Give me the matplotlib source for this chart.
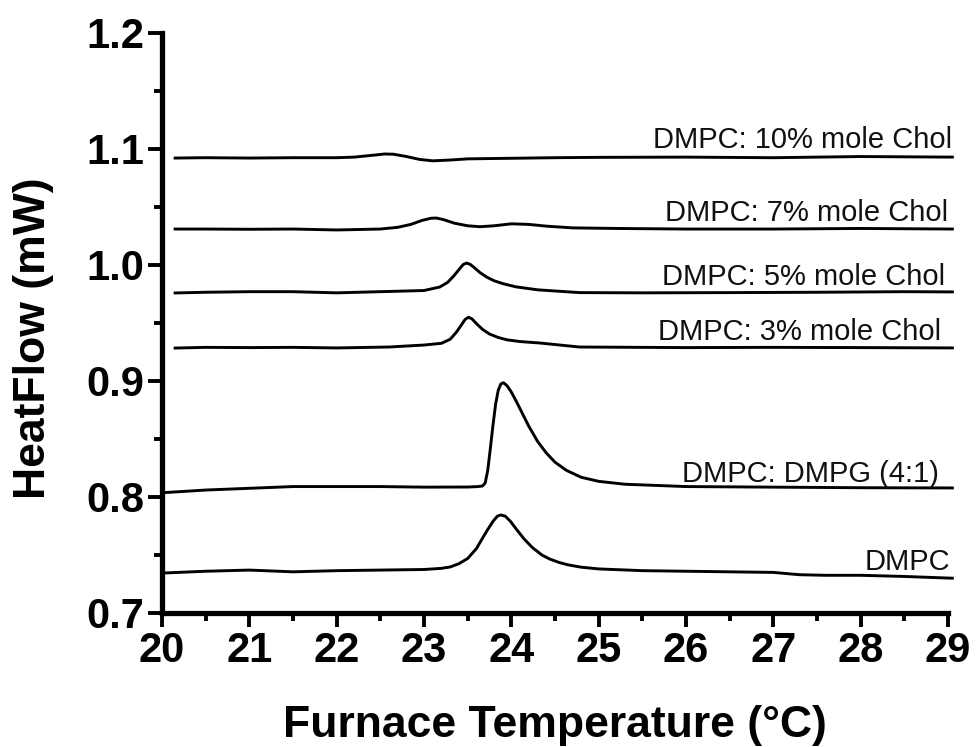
import matplotlib
matplotlib.use('Agg')
import matplotlib.pyplot as plt
from matplotlib.ticker import MultipleLocator

plt.rcParams['font.family'] = ['Liberation Sans', 'DejaVu Sans']

# ---------- Data ----------
dmpc_x = [20.03, 20.5, 21.0, 21.5, 22.0, 22.5, 23.0, 23.2, 23.3, 23.4, 23.5, 23.6, 23.67, 23.73,
          23.79, 23.84, 23.88, 23.93, 23.99, 24.06, 24.15, 24.24, 24.35, 24.44, 24.55, 24.65,
          24.8, 25.0, 25.5, 26.0, 26.5, 27.0, 27.3, 27.6, 28.0, 28.5, 29.05]
dmpc_y = [0.7345, 0.736, 0.737, 0.7355, 0.7365, 0.737, 0.7375, 0.7385, 0.7397, 0.7425, 0.747,
          0.7555, 0.7645, 0.772, 0.779, 0.7835, 0.7845, 0.7835, 0.779, 0.772, 0.7635, 0.7565,
          0.750, 0.7465, 0.7435, 0.7415, 0.7395, 0.738, 0.7365, 0.736, 0.7355, 0.735, 0.733,
          0.7325, 0.7325, 0.7315, 0.730]

dmpg_x = [20.03, 20.5, 21.0, 21.5, 22.0, 22.5, 23.0, 23.5, 23.62, 23.67, 23.70, 23.73, 23.76,
          23.79, 23.82, 23.85, 23.88, 23.91, 23.95, 24.0, 24.06, 24.12, 24.2, 24.3, 24.4, 24.5,
          24.63, 24.8, 25.0, 25.3, 26.0, 27.0, 28.0, 29.05]
dmpg_y = [0.8038, 0.806, 0.8075, 0.809, 0.809, 0.809, 0.8085, 0.8086, 0.809, 0.8095, 0.812,
          0.823, 0.842, 0.862, 0.880, 0.892, 0.8975, 0.8985, 0.896, 0.8905, 0.882, 0.873,
          0.861, 0.848, 0.838, 0.830, 0.823, 0.817, 0.8135, 0.811, 0.809, 0.8085, 0.808, 0.8078]

chol3_x = [20.15, 20.5, 21.0, 21.5, 22.0, 22.6, 23.0, 23.2, 23.3, 23.37, 23.43, 23.47, 23.51,
           23.55, 23.6, 23.67, 23.75, 23.85, 23.95, 24.1, 24.32, 24.78, 25.5, 26.0, 27.0, 28.0,
           29.05]
chol3_y = [0.9284, 0.929, 0.9288, 0.929, 0.9285, 0.9293, 0.931, 0.9325, 0.936, 0.942, 0.9485,
           0.953, 0.955, 0.9535, 0.9495, 0.9445, 0.9405, 0.9375, 0.9355, 0.934, 0.9328, 0.9293,
           0.929, 0.9288, 0.929, 0.9288, 0.9285]

chol5_x = [20.15, 20.5, 21.0, 21.5, 22.0, 22.5, 23.0, 23.18, 23.27, 23.34, 23.4, 23.45, 23.49,
           23.53, 23.58, 23.64, 23.72, 23.8, 23.9, 24.05, 24.3, 24.78, 25.5, 26.5, 27.5, 28.5,
           29.05]
chol5_y = [0.9759, 0.9765, 0.977, 0.977, 0.976, 0.977, 0.978, 0.981, 0.985, 0.9905, 0.996,
           1.0005, 1.0017, 1.0005, 0.9975, 0.9935, 0.9895, 0.9865, 0.984, 0.9812, 0.9786,
           0.9762, 0.976, 0.9762, 0.9765, 0.977, 0.9768]

chol7_x = [20.15, 20.5, 21.0, 21.5, 22.0, 22.5, 22.7, 22.85, 22.98, 23.08, 23.14, 23.22, 23.35,
           23.5, 23.64, 23.8, 24.0, 24.2, 24.4, 24.7, 25.2, 26.0, 27.0, 28.0, 29.05]
chol7_y = [1.031, 1.031, 1.0308, 1.031, 1.0302, 1.031, 1.0325, 1.035, 1.0385, 1.0403, 1.0405,
           1.0392, 1.036, 1.0338, 1.033, 1.0338, 1.0355, 1.035, 1.0335, 1.032, 1.0315, 1.031,
           1.031, 1.0315, 1.031]

chol10_x = [20.15, 20.5, 21.0, 21.5, 22.0, 22.2, 22.4, 22.55, 22.65, 22.8, 22.95, 23.1, 23.3,
            23.5, 24.0, 24.5, 25.0, 26.0, 27.0, 28.0, 29.05]
chol10_y = [1.0922, 1.0925, 1.0922, 1.0925, 1.0925, 1.093, 1.0945, 1.0957, 1.0955, 1.0935,
            1.091, 1.0898, 1.0905, 1.0915, 1.092, 1.0925, 1.0928, 1.093, 1.0925, 1.0935, 1.093]

curves = [(dmpc_x, dmpc_y), (dmpg_x, dmpg_y), (chol3_x, chol3_y),
          (chol5_x, chol5_y), (chol7_x, chol7_y), (chol10_x, chol10_y)]

# label text, right edge (x), baseline (y)
labels = ['DMPC', 'DMPC: DMPG (4:1)', 'DMPC: 3% mole Chol',
          'DMPC: 5% mole Chol', 'DMPC: 7% mole Chol', 'DMPC: 10% mole Chol']
label_x = [29.03, 28.9, 28.92, 28.97, 29.0, 29.05]
label_y = [0.7371, 0.8129, 0.9355, 0.983, 1.038, 1.1005]

# ---------- Plot ----------
fig = plt.figure(figsize=(9.79, 7.47), dpi=100)
ax = fig.add_axes([162 / 979, 1 - 613 / 747, 786 / 979, 580 / 747])

for cx, cy in curves:
    ax.plot(cx, cy, color='black', linewidth=2.1, clip_on=False,
            solid_joinstyle='round')

for txt, tx, ty in zip(labels, label_x, label_y):
    ax.text(tx, ty, txt, ha='right', va='baseline', fontsize=21, color='#111111')

ax.set_xlim(20, 29)
ax.set_ylim(0.7, 1.2)
ax.xaxis.set_major_locator(MultipleLocator(1))
ax.xaxis.set_minor_locator(MultipleLocator(0.5))
ax.yaxis.set_major_locator(MultipleLocator(0.1))
ax.yaxis.set_minor_locator(MultipleLocator(0.05))
ax.yaxis.set_major_formatter(plt.FuncFormatter(lambda v, p: f'{v:.1f}'))

ax.spines['top'].set_visible(False)
ax.spines['right'].set_visible(False)
for s in ['left', 'bottom']:
    ax.spines[s].set_linewidth(3.8)
    ax.spines[s].set_capstyle('projecting')

ax.tick_params(which='major', direction='out', length=10, width=2.8, labelsize=30, pad=3)
ax.tick_params(which='minor', direction='out', length=6, width=2.8)
for lab in ax.get_xticklabels() + ax.get_yticklabels():
    lab.set_fontweight('bold')

ax.set_xlabel('Furnace Temperature (°C)', fontsize=32, fontweight='bold')
ax.set_ylabel('HeatFlow (mW)', fontsize=32, fontweight='bold')
ax.xaxis.set_label_coords(0.5, -0.158)
ax.yaxis.set_label_coords(-0.138, 0.474)

fig.savefig('out.png', dpi=100)
